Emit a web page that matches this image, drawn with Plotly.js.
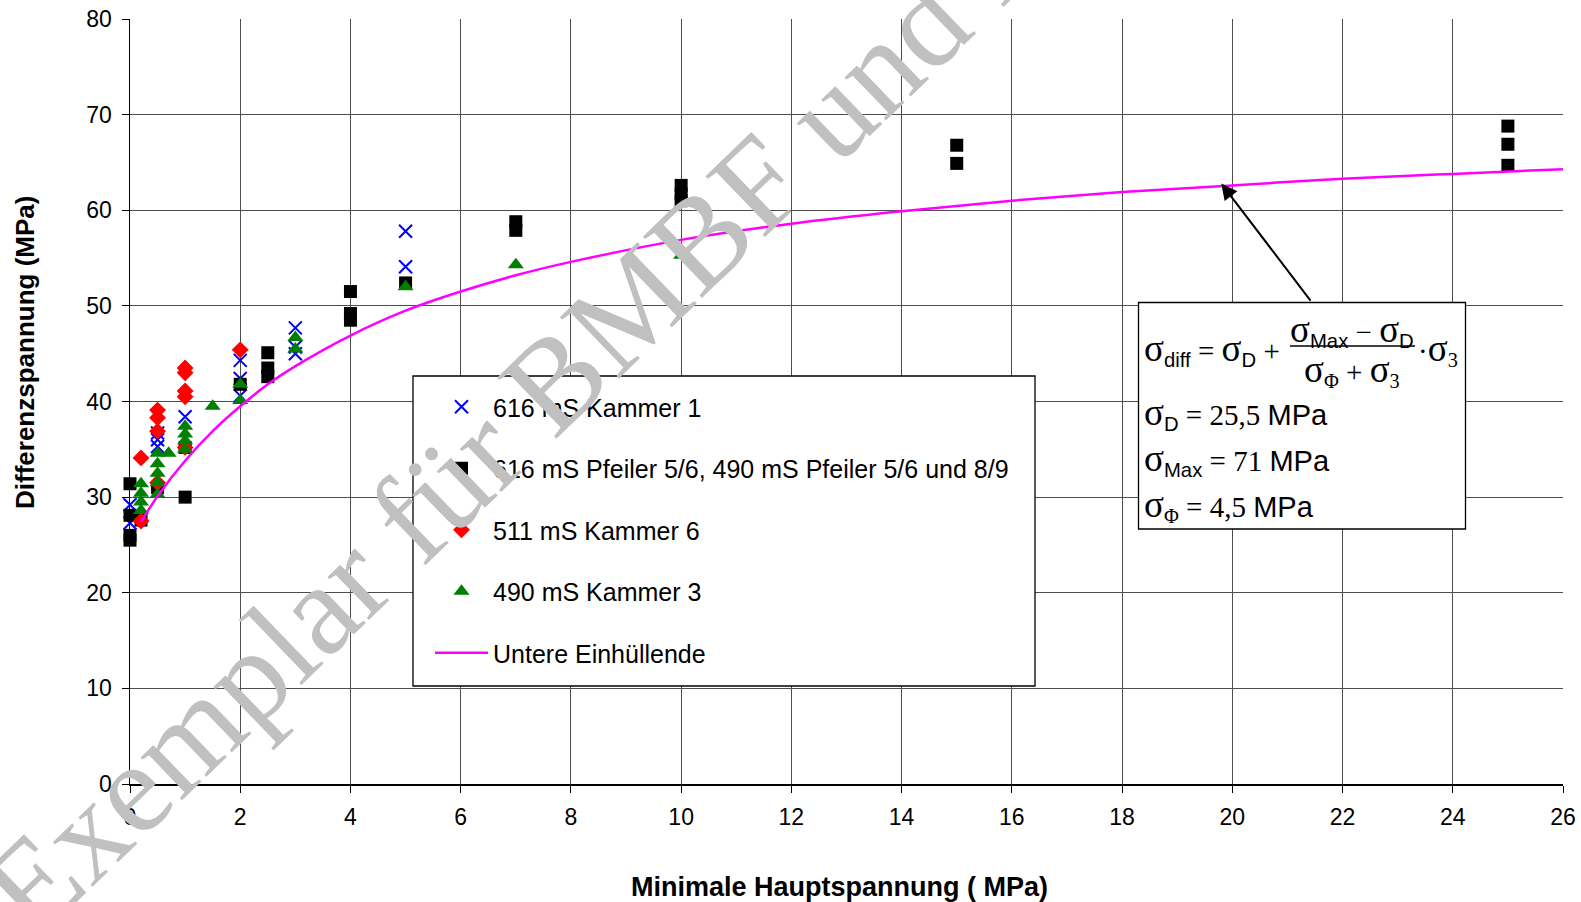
<!DOCTYPE html>
<html>
<head>
<meta charset="utf-8">
<script src="https://cdn.plot.ly/plotly-3.0.1.min.js"></script>
<style>html,body{margin:0;padding:0;background:#fff;}#chart{width:1581px;height:902px;}</style>
</head>
<body>
<div id="chart"></div>
<script>
// ---- data ----
const kammer1_x = [0, 0, 0.5, 0.5, 0.5, 1, 2, 2, 2, 3, 3, 3, 5, 5];
const kammer1_y = [29.2, 27.3, 36.7, 36.0, 35.3, 38.4, 44.3, 42.4, 40.6, 47.7, 45.7, 45.0, 57.8, 54.1];

const pfeiler_x = [0, 0, 0, 0, 0.2, 0.5, 1, 1, 2, 2.5, 2.5, 2.5, 4, 4, 4, 5, 7, 7, 10, 10, 10, 15, 15, 25, 25, 25];
const pfeiler_y = [31.4, 28.1, 26.0, 25.5, 27.6, 31.0, 35.2, 30.0, 41.8, 45.1, 43.5, 42.6, 51.5, 49.2, 48.5, 52.4, 58.8, 57.9, 62.6, 61.7, 61.0, 66.8, 64.9, 68.8, 66.9, 64.7];

const kammer6_x = [0.2, 0.2, 0.5, 0.5, 0.5, 0.5, 1, 1, 1, 1, 1, 2];
const kammer6_y = [34.1, 27.5, 39.1, 38.3, 36.9, 31.5, 43.5, 43.0, 41.1, 40.5, 35.2, 45.4];

const kammer3_x = [0.2, 0.2, 0.2, 0.2, 0.5, 0.5, 0.5, 0.5, 0.5, 0.7, 1, 1, 1, 1, 1.5, 2, 2, 3, 3, 5, 7, 10];
const kammer3_y = [31.4, 30.4, 29.5, 28.6, 34.6, 33.5, 32.5, 31.5, 30.3, 34.6, 37.4, 36.6, 35.9, 35.0, 39.5, 41.8, 40.1, 46.7, 45.5, 52.0, 54.3, 55.3];

const envelope_x = [0.2, 0.5, 1, 1.5, 2, 2.5, 3, 4, 5, 6, 7, 8, 10, 12, 14, 16, 18, 20, 22, 24, 26];
const envelope_y = [27.4, 30.1, 33.8, 36.9, 39.5, 41.8, 43.7, 46.9, 49.5, 51.5, 53.2, 54.6, 56.9, 58.6, 59.9, 61.0, 61.9, 62.6, 63.3, 63.8, 64.3];

const seriesNames = [
  '616 mS Kammer 1',
  '616 mS Pfeiler 5/6, 490 mS Pfeiler 5/6 und 8/9',
  '511 mS Kammer 6',
  '490 mS Kammer 3',
  'Untere Einhüllende'
];
const xTitle = 'Minimale Hauptspannung ( MPa)';
const yTitle = 'Differenzspannung (MPa)';
const watermarkText = 'Exemplar für BMBF und BfS';

// ---- layout helpers ----
const SANS = 'Liberation Sans, Arial, sans-serif';
const SERIF = 'Liberation Serif, Times New Roman, serif';
const ML = 130, MT = 19, MR = 18, MB = 118, FW = 1581, FH = 902;
const PW = FW - ML - MR, PH = FH - MT - MB;
const px = v => (v - ML) / PW;
const py = v => (MT + PH - v) / PH;

const traces = [
  {x: kammer1_x, y: kammer1_y, name: seriesNames[0], mode: 'markers', type: 'scatter', legendgroup: 'a', cliponaxis: false,
   marker: {symbol: 'x-thin', size: 13, color: '#0000ff', line: {color: '#0000ff', width: 2}}},
  {x: pfeiler_x, y: pfeiler_y, name: seriesNames[1], mode: 'markers', type: 'scatter', legendgroup: 'b', cliponaxis: false,
   marker: {symbol: 'square', size: 13, color: '#000000'}},
  {x: kammer6_x, y: kammer6_y, name: seriesNames[2], mode: 'markers', type: 'scatter', legendgroup: 'c', cliponaxis: false,
   marker: {symbol: 'diamond', size: 13, color: '#ff0000'}},
  {x: kammer3_x, y: kammer3_y, name: seriesNames[3], mode: 'markers', type: 'scatter', legendgroup: 'd', cliponaxis: false,
   marker: {symbol: 'triangle-up', size: 14, color: '#008000'}},
  {x: envelope_x, y: envelope_y, name: seriesNames[4], mode: 'lines', type: 'scatter', legendgroup: 'e',
   line: {color: '#ff00ff', width: 2.5, shape: 'spline'}}
];

const subSans = t => '<sub><span style="font-family:Liberation Sans">' + t + '</span></sub>';
const sig = '<span style="font-size:37px">σ</span>';
const mpa = '<span style="font-family:Liberation Sans">MPa</span>';

const annFont = {family: SERIF, size: 29, color: '#000'};
const annotations = [
  {xref: 'paper', yref: 'paper', x: px(839), y: py(887), text: xTitle, showarrow: false,
   font: {family: SANS, size: 27, color: '#000', weight: 'bold'}, xanchor: 'center', yanchor: 'middle'},
  {xref: 'paper', yref: 'paper', x: px(25), y: py(353), text: yTitle, showarrow: false, textangle: -90,
   font: {family: SANS, size: 26, color: '#000', weight: 'bold'}, xanchor: 'center', yanchor: 'middle'},
  // arrow to the envelope
  {xref: 'x', yref: 'y', axref: 'x', ayref: 'y', x: 19.8, y: 62.8, ax: 21.44, ay: 50.4, text: '',
   showarrow: true, arrowhead: 2, arrowsize: 1.6, arrowwidth: 2, arrowcolor: '#000', standoff: 0},
  // formula
  {xref: 'paper', yref: 'paper', x: px(1142), y: py(349), xanchor: 'left', yanchor: 'middle', showarrow: false,
   text: sig + subSans('diff') + ' = ' + sig + subSans('D') + ' +', font: annFont},
  {xref: 'paper', yref: 'paper', x: px(1352), y: py(330), xanchor: 'center', yanchor: 'middle', showarrow: false,
   text: sig + subSans('Max') + ' − ' + sig + subSans('D'), font: annFont},
  {xref: 'paper', yref: 'paper', x: px(1352), y: py(370), xanchor: 'center', yanchor: 'middle', showarrow: false,
   text: sig + '<sub>Φ</sub> + ' + sig + '<sub>3</sub>', font: annFont},
  {xref: 'paper', yref: 'paper', x: px(1416), y: py(349), xanchor: 'left', yanchor: 'middle', showarrow: false,
   text: '·' + sig + '<sub>3</sub>', font: annFont},
  {xref: 'paper', yref: 'paper', x: px(1142), y: py(414), xanchor: 'left', yanchor: 'middle', showarrow: false,
   text: sig + subSans('D') + ' = 25,5 ' + mpa, font: annFont},
  {xref: 'paper', yref: 'paper', x: px(1142), y: py(460), xanchor: 'left', yanchor: 'middle', showarrow: false,
   text: sig + subSans('Max') + ' = 71 ' + mpa, font: annFont},
  {xref: 'paper', yref: 'paper', x: px(1142), y: py(506), xanchor: 'left', yanchor: 'middle', showarrow: false,
   text: sig + '<sub>Φ</sub> = 4,5 ' + mpa, font: annFont},
  // watermark
  {xref: 'paper', yref: 'paper', x: px(560), y: py(374), xanchor: 'center', yanchor: 'middle', showarrow: false,
   text: watermarkText, textangle: -44, font: {family: SERIF, size: 130, color: 'rgb(192,192,192)'}}
];

const shapes = [
  {type: 'rect', xref: 'paper', yref: 'paper', x0: px(413), x1: px(1035), y0: py(376), y1: py(686),
   fillcolor: '#fff', line: {color: '#000', width: 1.3}, layer: 'above'},
  {type: 'rect', xref: 'paper', yref: 'paper', x0: px(1138.5), x1: px(1465.5), y0: py(302.5), y1: py(529),
   fillcolor: '#fff', line: {color: '#000', width: 1.3}, layer: 'above'},
  {type: 'line', xref: 'paper', yref: 'paper', x0: px(1290), x1: px(1415), y0: py(346), y1: py(346),
   line: {color: '#000', width: 1.3}, layer: 'above'}
];

const axisCommon = {
  showgrid: true, gridcolor: '#4d4d4d', gridwidth: 1, zeroline: false,
  showline: true, linecolor: '#000', linewidth: 1.5,
  ticks: 'outside', ticklen: 7, tickcolor: '#000', tickwidth: 1,
  tickfont: {family: SANS, size: 23, color: '#000'}, ticklabelstandoff: 5
};

const layout = {
  width: FW, height: FH,
  margin: {l: ML, r: MR, t: MT, b: MB, pad: 0},
  paper_bgcolor: '#fff', plot_bgcolor: '#fff',
  font: {family: SANS, color: '#000'},
  xaxis: Object.assign({}, axisCommon, {range: [0, 26], tick0: 0, dtick: 2}),
  yaxis: Object.assign({}, axisCommon, {range: [0, 80], tick0: 0, dtick: 10}),
  showlegend: true,
  legend: {x: px(430), xanchor: 'left', y: py(384), yanchor: 'top',
           bgcolor: 'rgba(0,0,0,0)', borderwidth: 0, itemwidth: 53,
           traceorder: 'grouped', tracegroupgap: 26,
           font: {family: SANS, size: 25, color: '#000'}},
  annotations: annotations,
  shapes: shapes
};

Plotly.newPlot('chart', traces, layout, {displayModeBar: false, staticPlot: true});
</script>
</body>
</html>
